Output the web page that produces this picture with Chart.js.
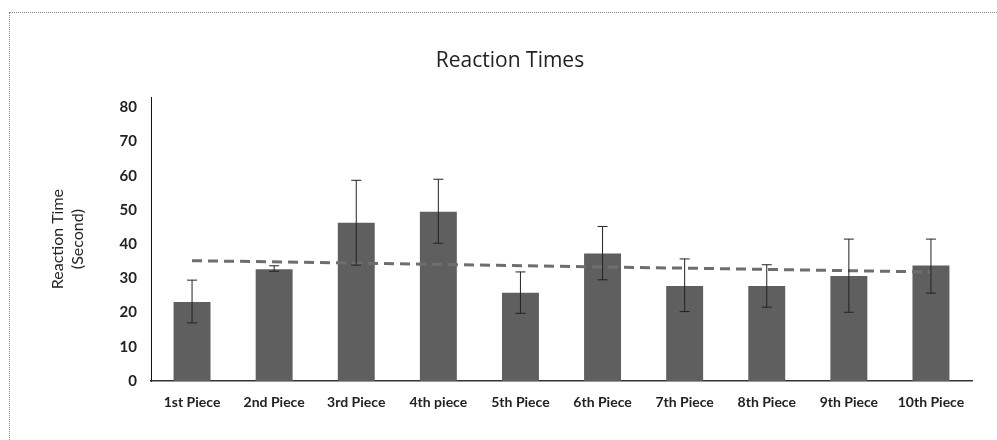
<!DOCTYPE html>
<html>
<head>
<meta charset="utf-8">
<script src="https://cdn.jsdelivr.net/npm/chart.js@4"></script>
<style>
    html, body { margin: 0; padding: 0; background: #fff; }
    #wrap { position: relative; width: 997px; height: 440px; }
    #frame { position: absolute; left: 9px; top: 12px; right: 0; bottom: 0;
             border-top: 1px dotted #888; border-left: 1px dotted #888; }
    canvas { position: absolute; left: 0; top: 0; }
</style>
</head>
<body>
<div id="wrap">
    <div id="frame"></div>
    <canvas id="myChart" width="997" height="440"></canvas>
</div>
<script>
// 값은 그림에서 읽은 것
const labels = ['1st Piece', '2nd Piece', '3rd Piece', '4th piece', '5th Piece',
                '6th Piece', '7th Piece', '8th Piece', '9th Piece', '10th Piece'];
const meanTimes = [23.1, 32.7, 46.3, 49.5, 25.8, 37.3, 27.8, 27.8, 30.7, 33.8];
const errHigh = [29.5, 33.7, 58.7, 59.0, 31.9, 45.2, 35.7, 34.0, 41.5, 41.5];
const errLow = [17.0, 32.1, 33.9, 40.3, 19.8, 29.6, 20.3, 21.6, 20.1, 25.7];
// 추세선 (양 끝만)
const trendLine = [35.2, null, null, null, null, null, null, null, null, 31.9];
const yTicks = [0, 10, 20, 30, 40, 50, 60, 70, 80];

// 에러바 그리는 플러그인
const errorBars = {
    id: 'errorBars',
    afterDatasetsDraw(chart) {
        const meta = chart.getDatasetMeta(0);
        const y = chart.scales.y;
        const ctx = chart.ctx;
        ctx.save();
        ctx.strokeStyle = '#222';
        ctx.lineWidth = 1;
        meta.data.forEach((bar, i) => {
            const top = y.getPixelForValue(errHigh[i]);
            const bot = y.getPixelForValue(errLow[i]);
            ctx.beginPath();
            ctx.moveTo(bar.x, top); ctx.lineTo(bar.x, bot);
            ctx.moveTo(bar.x - 5, top); ctx.lineTo(bar.x + 5, top);
            ctx.moveTo(bar.x - 5, bot); ctx.lineTo(bar.x + 5, bot);
            ctx.stroke();
        });
        ctx.restore();
    }
};

const data = {
    labels: labels,
    datasets: [{
        type: 'bar',
        data: meanTimes,
        backgroundColor: '#5f5f5f',
        borderWidth: 0,
        barPercentage: 0.45,
        categoryPercentage: 1,
        order: 2,
    }, {
        type: 'line',
        data: trendLine,
        spanGaps: true,
        borderColor: '#6e6e6e',
        borderWidth: 3,
        borderDash: [10, 6],
        pointRadius: 0,
        fill: false,
        order: 1,
    }],
};

const config = {
    data: data,
    plugins: [errorBars],
    options: {
        responsive: false,
        animation: false,
        layout: { padding: { left: 48, right: 25, top: 0, bottom: 0 } },
        plugins: {
            legend: false,
            tooltip: false,
            title: {
                display: true,
                text: 'Reaction Times',
                color: '#222',
                font: { family: "'Open Sans', sans-serif", size: 21, weight: '400' },
                padding: { top: 48, bottom: 24 },
            },
        },
        scales: {
            y: {
                min: 0,
                max: 83,
                afterBuildTicks: (scale) => {
                    scale.ticks = yTicks.map(v => ({ value: v }));
                },
                afterFit: (scale) => { scale.width = 103; },
                grid: { display: false, drawTicks: false },
                border: { display: true, color: '#111', width: 1 },
                ticks: {
                    color: '#222',
                    padding: 14,
                    font: { family: "Lato, sans-serif", size: 15, weight: '700' },
                },
                title: {
                    display: true,
                    text: ['Reaction Time', '(Second)'],
                    color: '#222',
                    font: { family: "Lato, sans-serif", size: 16, weight: '400', lineHeight: 1.25 },
                    padding: 0,
                },
            },
            x: {
                afterFit: (scale) => { scale.height = 59; },
                grid: { display: false, drawTicks: false },
                border: { display: true, color: '#333', width: 1.5 },
                ticks: {
                    color: '#222',
                    padding: 13,
                    maxRotation: 0,
                    font: { family: "Lato, sans-serif", size: 14, weight: '700' },
                },
            },
        },
    },
};

const myChart = new Chart(document.getElementById('myChart'), config);
</script>
</body>
</html>
